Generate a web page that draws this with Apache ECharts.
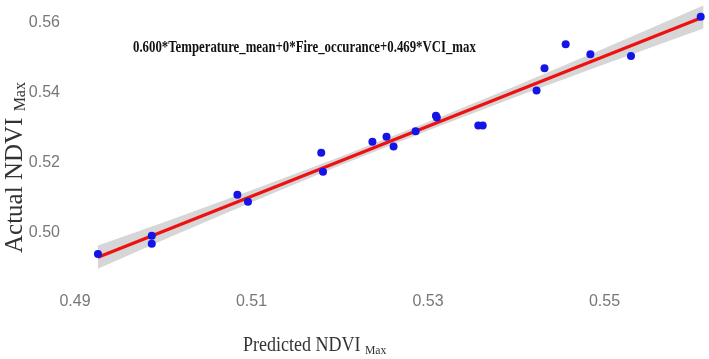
<!DOCTYPE html>
<html>
<head>
<meta charset="utf-8">
<script src="https://cdn.jsdelivr.net/npm/echarts@6/dist/echarts.min.js"></script>
<style>
  html, body { margin: 0; padding: 0; background: #fff; }
  #chart { width: 709px; height: 359px; }
</style>
</head>
<body>
<div id="chart"></div>
<script>
  // observed vs predicted NDVI max
  var predicted = [0.4926, 0.4987, 0.4987, 0.5084, 0.5096, 0.5181, 0.5179, 0.5237, 0.5253, 0.5261,
    0.5286, 0.5309, 0.5310, 0.5357, 0.5362, 0.5423, 0.5432, 0.5456, 0.5484, 0.5530, 0.5609]
  var actual = [0.4940, 0.4969, 0.4992, 0.5109, 0.5089, 0.5175, 0.5229, 0.5261, 0.5275, 0.5247,
    0.5291, 0.5335, 0.5330, 0.5307, 0.5307, 0.5407, 0.5471, 0.5539, 0.5511, 0.5506, 0.5618]

  // fitted line and its confidence band
  var fitX = [0.4926, 0.5612]
  var fitY = [0.4931, 0.5617]
  var bandX = [0.4926, 0.50, 0.51, 0.52, 0.53, 0.54, 0.55, 0.5612]
  var bandLow = [0.4898, 0.4980, 0.5088, 0.5193, 0.5293, 0.5389, 0.5482, 0.5584]
  var bandHigh = [0.4964, 0.5030, 0.5122, 0.5217, 0.5317, 0.5421, 0.5528, 0.5650]

  var formulaText = '0.600*Temperature_mean+0*Fire_occurance+0.469*VCI_max'

  var chart = echarts.init(document.getElementById('chart'))

  var points = predicted.map(function (p, i) { return [p, actual[i]] })
  var fitLine = fitX.map(function (x, i) { return [x, fitY[i]] })
  var bandData = bandX.map(function (x, i) { return [x, bandLow[i], bandHigh[i]] })

  var tickFont = {
    color: '#777',
    fontSize: 16,
    fontFamily: '"Liberation Sans Narrow", "Liberation Sans", sans-serif'
  }
  function subStyle(size) {
    return {
      fontSize: size,
      fontFamily: '"Liberation Serif", serif',
      fill: '#333',
      verticalAlign: 'bottom',
      padding: [0, 0, -1, 0]
    }
  }

  chart.setOption({
    animation: false,
    backgroundColor: '#fff',
    grid: {left: 75, right: 1, top: 5.5, bottom: 91},
    xAxis: {
      type: 'value',
      min: 0.49,
      max: 0.5615,
      interval: 0.01,
      axisLine: {show: false},
      axisTick: {show: false},
      splitLine: {show: false},
      axisLabel: Object.assign({
        margin: 26,
        formatter: function (v) {
          return Math.round(v * 1000) % 20 === 10 ? v.toFixed(2) : ''
        }
      }, tickFont)
    },
    yAxis: {
      type: 'value',
      min: 0.49,
      max: 0.565,
      interval: 0.01,
      axisLine: {show: false},
      axisTick: {show: false},
      splitLine: {show: false},
      axisLabel: Object.assign({
        margin: 15,
        formatter: function (v) {
          return Math.round(v * 1000) % 20 === 0 ? v.toFixed(2) : ''
        }
      }, tickFont)
    },
    graphic: [
      {
        type: 'text',
        x: 133,
        y: 40,
        scaleX: 0.8,
        style: {
          text: formulaText,
          fill: '#111',
          font: 'bold 16px "Liberation Serif", serif'
        }
      },
      {
        type: 'text',
        x: 243,
        y: 336,
        scaleX: 0.9,
        style: {
          text: 'Predicted NDVI {s|Max}',
          fill: '#333',
          font: '20px "Liberation Serif", serif',
          rich: {s: subStyle(13)}
        }
      },
      {
        type: 'text',
        x: 3,
        y: 253,
        rotation: Math.PI / 2,
        style: {
          text: 'Actual NDVI {s|Max}',
          fill: '#333',
          font: '25px "Liberation Serif", serif',
          rich: {s: subStyle(16)}
        }
      }
    ],
    series: [
      {
        type: 'custom',
        silent: true,
        z: 1,
        data: bandData,
        renderItem: function (params, api) {
          if (params.dataIndex !== 0) return
          var upper = bandData.map(function (d) { return api.coord([d[0], d[2]]) })
          var lower = bandData.map(function (d) { return api.coord([d[0], d[1]]) }).reverse()
          return {
            type: 'polygon',
            shape: {points: upper.concat(lower)},
            style: {fill: '#d6d6d6'}
          }
        }
      },
      {
        type: 'line',
        data: fitLine,
        z: 2,
        symbol: 'none',
        lineStyle: {color: '#ee1111', width: 3.2}
      },
      {
        type: 'scatter',
        data: points,
        z: 3,
        symbolSize: 8,
        itemStyle: {color: '#1414e6', opacity: 1}
      }
    ]
  })
</script>
</body>
</html>
